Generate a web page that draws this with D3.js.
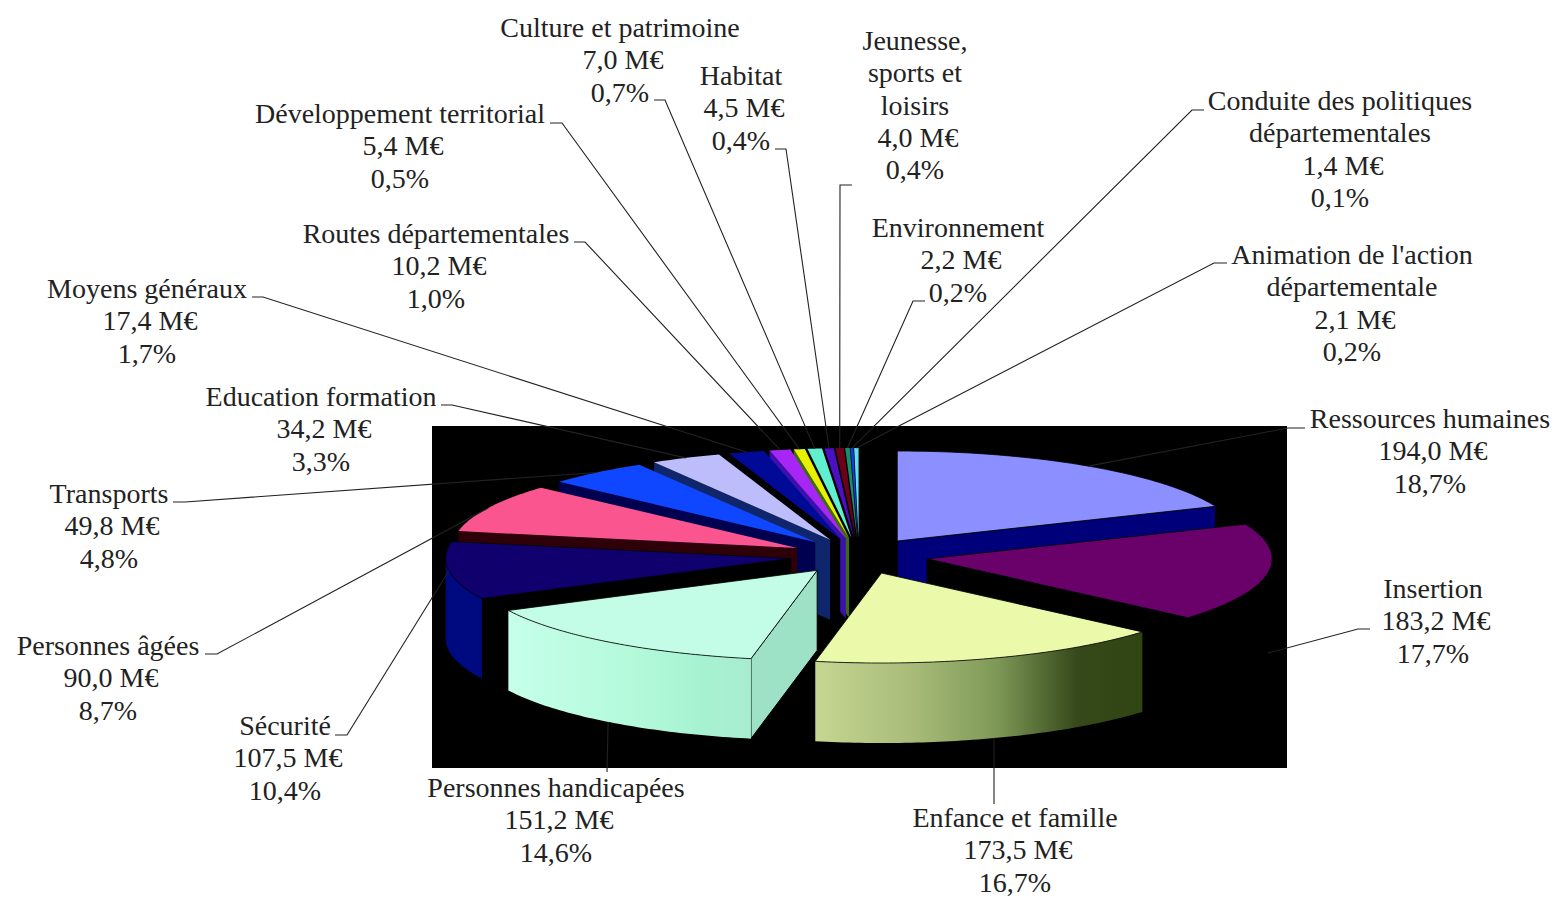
<!DOCTYPE html>
<html>
<head>
<meta charset="utf-8">
<title>Budget par politique</title>
<script src="https://cdn.jsdelivr.net/npm/d3@7"></script>
<style>
    html, body { margin: 0; padding: 0; background: #fff; }
    text { font-family: "Liberation Serif", "Times New Roman", serif; font-size: 28px; fill: #222; }
</style>
</head>
<body>
<div id="chart"></div>
<script>
"use strict";

// values in M€ and shares in %, clockwise from 12 o'clock
var categories = [
    "Ressources humaines", "Insertion", "Enfance et famille", "Personnes handicapées",
    "Sécurité", "Personnes âgées", "Transports", "Education formation", "Moyens généraux",
    "Routes départementales", "Développement territorial", "Culture et patrimoine", "Habitat",
    "Jeunesse,|sports et|loisirs", "Environnement", "Conduite des politiques|départementales",
    "Animation de l'action|départementale"
];
var amounts = [194.0, 183.2, 173.5, 151.2, 107.5, 90.0, 49.8, 34.2, 17.4, 10.2, 5.4, 7.0, 4.5, 4.0, 2.2, 1.4, 2.1];
var shares = [18.7, 17.7, 16.7, 14.6, 10.4, 8.7, 4.8, 3.3, 1.7, 1.0, 0.5, 0.7, 0.4, 0.4, 0.2, 0.1, 0.2];

// slice colours
var topColors = ["#8b8fff", "#6a006a", "#eafaaa", "#c3fde7", "#10006e", "#fb5590", "#0f46ff", "#bdbdfb",
    "#000a96", "#a726f5", "#e6f000", "#60f0d0", "#4b0fc4", "#6b0018", "#17906a", "#0f3fe0", "#60e0f0"];
var sideColors = ["#00007a", "#000", "#000", "#9de2c6", "#000", "#2e0008", "#000050", "#10266c",
    "#000", "#3c10b0", "#3c6a10", "#000", "#000", "#000", "#000", "#000", "#000"];
var rimColors = ["#00007a", "#000", "url(#rimEnfance)", "url(#rimHandicap)", "#000a80", "#2e0008", "#000050", "#10266c",
    "#000", "#000", "#000", "#000", "#000", "#000", "#000", "#000", "#000"];

// label layout: centre x, first baseline, then the two leader points next to the text
var labelX = [1430, 1433, 1015, 556, 285, 108, 109, 321, 147, 436, 400, 620, 741, 915, 958, 1340, 1352];
var labelY = [428, 598, 827, 797, 735, 655, 503, 406, 298, 243, 123, 37, 85, 50, 237, 110, 264];
var leaderFrom = [[1305, 428], [1370, 629], [994, 804], [607, 772], [335, 735], [205, 654], [173, 502], [441, 405],
    [252, 297], [574, 242], [550, 123], [654, 100], [775, 149], [852, 185], [925, 301], [1204, 110], [1227, 263]];
var leaderElbow = [[1288, 428], [1358, 629], null, null, [347, 735], [217, 654], [185, 502], [452, 405],
    [263, 297], [585, 242], [562, 123], [665, 100], [786, 149], [840, 185], [913, 301], [1192, 110], [1214, 263]];
var leaderOnWall = [false, true, true, true];

var width = 1555, height = 898;
var wallHeight = 80, explode = 0.2;

var frFormat = d3.formatLocale({ decimal: ",", thousands: " ", grouping: [3], currency: ["", " €"] }).format(".1f");

var svg = d3.select("#chart").append("svg")
    .attr("width", width)
    .attr("height", height)
    .style("display", "block");

var defs = svg.append("defs");
function addGradient(id, stops) {
    defs.append("linearGradient").attr("id", id)
        .selectAll("stop").data(stops).enter().append("stop")
        .attr("offset", function (d) { return d[0]; })
        .attr("stop-color", function (d) { return d[1]; });
}
addGradient("rimEnfance", [[0, "#c6d693"], [0.3, "#a8bb78"], [0.55, "#7f9a58"], [0.8, "#36491a"], [1, "#2f4512"]]);
addGradient("rimHandicap", [[0, "#c6ffea"], [0.5, "#b4fadb"], [0.8, "#a6f2d0"], [1, "#a8ecd0"]]);

svg.append("rect")
    .attr("x", 432).attr("y", 426)
    .attr("width", 855).attr("height", 342)
    .attr("fill", "#000");

// the disc is lying flat: x goes left-right, y goes far-near on screen
var xScale = d3.scaleLinear().domain([-1, 1]).range([859 - 345, 859 + 345]);
var yScale = d3.scaleLinear().domain([-1, 1]).range([556 + 90, 556 - 90]);

var pie = d3.pie().sort(null).value(function (d) { return d; });
var arcs = pie(amounts).map(function (a) {
    a.mid = (a.startAngle + a.endAngle) / 2;
    return a;
});

function project(a, angle, radius, drop) {
    var wx = explode * Math.sin(a.mid) + radius * Math.sin(angle);
    var wy = explode * Math.cos(a.mid) + radius * Math.cos(angle);
    return [xScale(wx), yScale(wy) + (drop || 0)];
}

function rimPoints(a, from, to, drop) {
    var n = Math.max(2, Math.ceil((to - from) * 60));
    return d3.range(n + 1).map(function (i) {
        return project(a, from + (to - from) * i / n, 1, drop);
    });
}

var line = d3.line();

function sideWall(a, angle) {
    return line([project(a, 0, 0), project(a, angle, 1), project(a, angle, 1, wallHeight), project(a, 0, 0, wallHeight)]) + "Z";
}

// painter's order: far slices first
var order = d3.range(arcs.length).sort(function (p, q) {
    return Math.cos(arcs[q].mid) - Math.cos(arcs[p].mid);
});

var slices = svg.append("g").attr("class", "slices")
    .selectAll("g").data(order).enter().append("g");

slices.each(function (i) {
    var g = d3.select(this), a = arcs[i];
    var edge = amounts[i] > 100 ? "#000" : "none";

    if (Math.sin(a.startAngle) < 0) {
        g.append("path").attr("d", sideWall(a, a.startAngle)).attr("fill", sideColors[i]).attr("stroke", edge);
    }
    if (Math.sin(a.endAngle) > 0) {
        g.append("path").attr("d", sideWall(a, a.endAngle)).attr("fill", sideColors[i]).attr("stroke", edge);
    }

    var from = Math.max(a.startAngle, Math.PI / 2), to = Math.min(a.endAngle, 3 * Math.PI / 2);
    if (to > from) {
        var rim = rimPoints(a, from, to, 0).concat(rimPoints(a, from, to, wallHeight).reverse());
        g.append("path").attr("d", line(rim) + "Z").attr("fill", rimColors[i]);
    }

    var top = [project(a, 0, 0)].concat(rimPoints(a, a.startAngle, a.endAngle, 0));
    g.append("path").attr("d", line(top) + "Z").attr("fill", topColors[i])
        .attr("stroke", edge).attr("stroke-width", 0.8);
});

// leader lines end at the middle of each slice's rim
svg.append("g").attr("class", "leaders")
    .selectAll("path").data(arcs).enter().append("path")
    .attr("fill", "none")
    .attr("stroke", "#222")
    .attr("stroke-width", 1.1)
    .attr("d", function (a, i) {
        var pts = [leaderFrom[i]];
        if (leaderElbow[i]) pts.push(leaderElbow[i]);
        pts.push(project(a, a.mid, 1, leaderOnWall[i] ? wallHeight : 0));
        return line(pts);
    });

var labels = svg.append("g").attr("class", "labels")
    .selectAll("text").data(categories).enter().append("text")
    .attr("text-anchor", "middle")
    .attr("x", function (d, i) { return labelX[i]; })
    .attr("y", function (d, i) { return labelY[i]; });

labels.each(function (d, i) {
    var names = d.split("|");
    var lines = names.concat([frFormat(amounts[i]) + " M€", frFormat(shares[i]) + "%"]);
    d3.select(this).selectAll("tspan").data(lines).enter().append("tspan")
        // the amount line sits a little right of the others in the original
        .attr("x", function (t, k) { return labelX[i] + (k === names.length ? 3 : 0); })
        .attr("y", function (t, k) { return labelY[i] + k * 32.3; })
        .text(function (t) { return t; });
});
</script>
</body>
</html>
